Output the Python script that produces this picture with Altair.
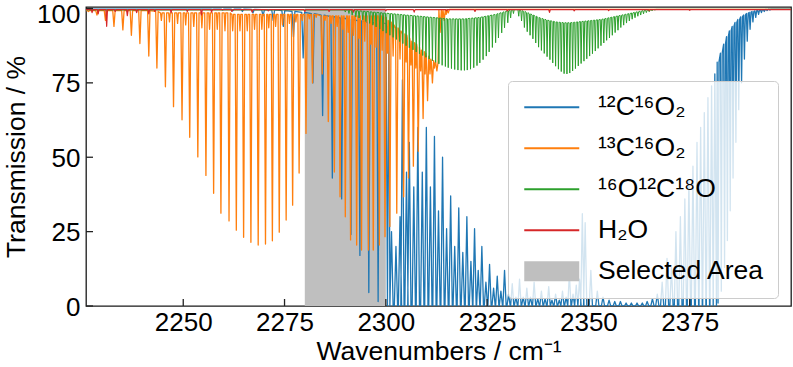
import altair as alt
import pandas as pd

# ---------------------------------------------------------------- axes
WN_MIN, WN_MAX = 2226.0, 2400.0
T_MIN, T_MAX = 0.0, 100.5
PLOT_W, PLOT_H = 705, 299

x_ticks = [2250, 2275, 2300, 2325, 2350, 2375]
y_ticks = [0, 25, 50, 75, 100]

# selected spectral window (wavenumbers) and its vertical extent (%)
area_bounds = [2280.0, 2300.0]
area_levels = [0.0, 100.0]

species = ["¹²C¹⁶O₂", "¹³C¹⁶O₂", "¹⁶O¹²C¹⁸O", "H₂O", "Selected Area"]
palette = ["#1f77b4", "#ff7f0e", "#2ca02c", "#d62728", "#bfbfbf"]

# ---------------------------------------------------------------- 12C16O2
# unsaturated P-branch lines: (centre, transmission at centre, transmission beside line)
co2_p_lines = [
    (2257.2, 99.7, 99.8), (2259.7, 99.5, 99.8), (2262.2, 99.2, 99.8),
    (2264.6, 99.0, 99.8), (2267.2, 98.5, 99.7), (2269.7, 97.5, 99.6),
    (2272.2, 96.0, 99.5), (2274.7, 94.0, 99.3), (2277.2, 90.5, 99.0),
    (2279.6, 83.4, 98.7), (2282.0, 75.0, 98.3), (2284.4, 64.0, 97.8),
    (2286.8, 43.0, 97.3), (2289.1, 36.0, 96.8), (2291.4, 24.0, 96.3),
    (2293.6, 17.0, 95.8), (2295.8, 4.5, 95.3), (2298.1, 1.5, 95.0),
    (2300.4, 0.0, 95.0),
]
# transmission windows between saturated lines: (centre, peak transmission)
co2_windows = [
    (2301.4, 25), (2302.5, 20), (2303.5, 30), (2304.1, 76), (2305.1, 45),
    (2305.8, 55), (2306.9, 40), (2307.9, 60), (2309.0, 45), (2310.0, 60),
    (2311.0, 40), (2312.0, 57), (2313.0, 32), (2314.0, 50), (2315.0, 26),
    (2316.0, 37), (2317.0, 20), (2318.0, 33), (2319.0, 18), (2320.0, 30),
    (2321.0, 15), (2321.9, 26), (2322.8, 12), (2323.7, 20), (2324.7, 8),
    (2325.6, 14), (2326.6, 6), (2327.5, 10), (2328.4, 5), (2329.3, 12),
    (2330.3, 4), (2331.2, 7.5), (2332.1, 3), (2333.0, 9), (2333.9, 3),
    (2334.8, 6), (2335.7, 3), (2336.6, 8), (2337.5, 2.5), (2338.4, 5),
    (2339.3, 2.5), (2340.2, 6.5), (2341.0, 2), (2341.9, 4), (2342.8, 2),
    (2343.6, 5), (2344.5, 3), (2345.3, 11), (2346.2, 4), (2347.0, 7),
    (2347.8, 9), (2348.5, 31), (2349.2, 28), (2350.6, 12), (2352.2, 5),
    (2353.6, 3), (2355.1, 2), (2356.5, 1.5), (2357.9, 1.5), (2359.3, 1),
    (2360.6, 1), (2362.0, 1), (2363.3, 1), (2364.5, 1.5), (2365.8, 2.5),
    (2367.0, 4), (2368.2, 8), (2369.4, 16), (2370.5, 13), (2371.6, 25),
    (2372.7, 30), (2373.8, 36), (2374.8, 42), (2375.8, 47), (2376.8, 55),
    (2377.7, 60), (2378.6, 65), (2379.5, 70), (2380.4, 74), (2381.2, 78),
]
# R-branch edge lines
co2_r_lines = [
    (2382.0, 1.0, 82.0), (2382.8, 5.0, 85.0), (2383.6, 13.0, 88.0),
    (2384.3, 22.0, 90.5), (2385.0, 32.0, 92.5), (2385.7, 43.0, 94.0),
    (2386.4, 55.0, 95.3), (2387.1, 66.0, 96.3), (2387.8, 75.0, 97.2),
    (2388.5, 83.0, 97.8), (2389.2, 89.0, 98.3), (2389.9, 93.0, 98.7),
    (2390.6, 95.5, 99.0), (2391.3, 97.0, 99.2), (2392.0, 98.0, 99.4),
    (2392.7, 98.6, 99.5), (2393.4, 99.0, 99.6), (2394.1, 99.3, 99.7),
    (2394.8, 99.5, 99.8),
]

# ---------------------------------------------------------------- 13C16O2
c13_lines = [
    (2226.6, 99.0, 99.3), (2228.7, 97.8, 99.3), (2230.8, 96.0, 99.3),
    (2232.9, 94.0, 99.3), (2235.1, 92.8, 99.3), (2237.2, 91.0, 99.3),
    (2239.3, 88.2, 99.3), (2241.5, 84.0, 99.3), (2243.5, 80.0, 99.0),
    (2245.6, 73.7, 98.5), (2247.6, 67.0, 98.5), (2249.7, 62.6, 98.5),
    (2251.6, 56.7, 98.5), (2253.6, 50.1, 98.5), (2255.6, 43.9, 98.5),
    (2257.5, 37.9, 98.5), (2259.3, 31.2, 98.5), (2261.3, 28.6, 98.5),
    (2263.1, 25.5, 98.0), (2264.9, 23.1, 98.0), (2266.7, 21.4, 98.0),
    (2268.5, 20.5, 98.0), (2270.3, 20.8, 98.0), (2272.0, 21.9, 98.0),
    (2273.7, 24.8, 98.0), (2275.4, 28.9, 98.0), (2277.0, 33.9, 98.0),
    (2278.6, 44.7, 98.0), (2280.3, 58.0, 98.0), (2281.9, 75.0, 98.0),
    (2284.3, 78.0, 97.5), (2285.8, 62.0, 97.5), (2287.3, 45.0, 97.5),
    (2288.7, 36.7, 97.5), (2290.0, 30.0, 97.5), (2291.3, 22.2, 97.5),
    (2292.8, 20.5, 97.5), (2294.0, 18.8, 97.5), (2295.7, 18.8, 97.5),
    (2296.9, 18.8, 97.5), (2298.4, 20.5, 97.5), (2299.8, 23.3, 97.0),
    (2301.0, 26.7, 95.5), (2302.7, 31.2, 93.5), (2304.4, 36.7, 91.5),
    (2305.6, 43.0, 90.0), (2306.8, 47.0, 88.5), (2308.0, 52.0, 87.0),
    (2309.2, 63.0, 85.5), (2310.3, 69.0, 84.0), (2311.5, 75.0, 82.5),
    (2312.6, 79.0, 82.0), (2313.4, 92.0, 99.5), (2314.4, 96.0, 99.6),
    (2315.4, 98.5, 99.7),
]
# weak hot-band lines of the same isotopologue
c13_hot_lines = [
    (2244.6, 96.0, 98.5), (2246.6, 95.5, 98.5), (2248.6, 95.0, 98.5),
    (2250.6, 94.5, 98.5), (2252.6, 94.0, 98.5), (2254.6, 93.5, 98.5),
    (2256.5, 93.0, 98.5), (2258.4, 93.0, 98.5), (2260.3, 92.5, 98.5),
    (2262.2, 92.5, 98.0), (2264.0, 92.5, 98.0), (2265.8, 92.5, 98.0),
    (2267.6, 93.0, 98.0), (2269.4, 93.0, 98.0), (2271.1, 93.5, 98.0),
    (2272.8, 94.0, 98.0), (2274.5, 94.5, 98.0), (2276.2, 95.0, 98.0),
    (2277.8, 95.5, 98.0), (2279.4, 96.0, 98.0), (2281.1, 96.5, 98.0),
    (2282.8, 97.0, 98.0),
    (2285.0, 96.0, 97.5), (2286.5, 95.0, 97.5), (2288.0, 94.0, 97.5),
    (2289.4, 93.0, 97.5), (2290.7, 92.0, 97.5), (2292.0, 91.0, 97.5),
    (2293.4, 90.0, 97.5), (2294.8, 89.0, 97.5), (2296.3, 88.0, 97.5),
    (2297.6, 87.0, 97.5), (2299.1, 86.0, 97.5), (2300.4, 85.0, 96.0),
    (2301.8, 84.0, 94.5), (2303.5, 83.0, 92.5), (2305.0, 82.0, 91.0),
    (2306.2, 81.0, 89.0), (2307.4, 80.0, 88.0), (2308.6, 79.0, 86.0),
    (2309.7, 78.0, 85.0), (2310.9, 78.0, 83.0), (2312.0, 80.0, 82.0),
    (2313.9, 96.5, 99.5), (2314.9, 98.0, 99.6),
]

# ---------------------------------------------------------------- 16O12C18O
o18_lines = [
    (2290.0, 98.8, 99.5), (2290.9, 98.3, 99.5), (2291.7, 97.8, 99.4),
    (2292.6, 97.2, 99.3), (2293.4, 96.8, 99.2), (2294.3, 96.2, 99.1),
    (2295.1, 95.6, 99.0), (2296.0, 95.0, 98.9), (2296.8, 94.4, 98.8),
    (2297.6, 93.8, 98.7), (2298.5, 93.1, 98.6), (2299.3, 92.4, 98.5),
    (2300.1, 91.7, 98.4), (2301.0, 91.0, 98.3), (2301.8, 90.3, 98.2),
    (2302.6, 89.6, 98.1), (2303.4, 88.9, 98.0), (2304.2, 88.2, 97.9),
    (2305.0, 87.5, 97.8), (2305.8, 86.8, 97.7), (2306.7, 86.1, 97.6),
    (2307.5, 85.4, 97.5), (2308.3, 84.8, 97.4), (2309.1, 84.2, 97.3),
    (2309.9, 83.6, 97.2), (2310.7, 83.0, 97.1), (2311.5, 82.4, 97.0),
    (2312.3, 81.9, 96.9), (2313.1, 81.4, 96.8), (2313.9, 80.9, 96.7),
    (2314.7, 80.5, 96.6), (2315.4, 80.1, 96.5), (2316.2, 79.8, 96.5),
    (2317.0, 79.5, 96.5), (2317.8, 79.3, 96.5), (2318.6, 79.2, 96.5),
    (2319.4, 79.2, 96.5), (2320.1, 79.3, 96.6), (2320.9, 79.6, 96.7),
    (2321.7, 80.1, 96.8), (2322.5, 80.8, 96.9), (2323.2, 81.7, 97.0),
    (2324.0, 82.8, 97.2), (2324.8, 84.0, 97.4), (2325.5, 85.4, 97.6),
    (2326.3, 86.9, 97.8), (2327.1, 88.5, 98.0), (2327.8, 90.1, 98.3),
    (2328.6, 91.8, 98.6), (2329.3, 93.5, 98.9), (2330.1, 95.2, 99.2),
    (2330.8, 96.8, 99.4), (2331.5, 98.3, 99.6),
    (2332.8, 97.4, 99.6), (2333.5, 95.8, 99.3), (2334.2, 93.6, 99.0),
    (2334.9, 92.2, 98.6), (2335.6, 91.0, 98.2), (2336.3, 89.8, 97.8),
    (2337.0, 88.4, 97.4), (2337.7, 87.0, 97.0), (2338.4, 85.9, 96.7),
    (2339.1, 84.9, 96.4), (2339.8, 83.8, 96.1), (2340.5, 82.8, 95.9),
    (2341.2, 81.7, 95.7), (2341.9, 80.6, 95.5), (2342.6, 79.6, 95.4),
    (2343.3, 78.8, 95.3), (2344.0, 78.1, 95.2), (2344.7, 78.0, 95.2),
    (2345.4, 78.3, 95.2), (2346.1, 79.0, 95.3), (2346.8, 79.8, 95.4),
    (2347.5, 80.7, 95.5), (2348.2, 81.5, 95.6), (2348.9, 82.3, 95.7),
    (2349.6, 83.1, 95.8), (2350.3, 84.0, 95.9), (2351.0, 84.8, 96.0),
    (2351.7, 85.7, 96.1), (2352.4, 86.6, 96.2), (2353.1, 87.5, 96.3),
    (2353.8, 88.4, 96.5), (2354.5, 89.3, 96.7), (2355.2, 90.1, 96.9),
    (2355.9, 91.0, 97.1), (2356.6, 91.9, 97.3), (2357.3, 92.7, 97.5),
    (2358.0, 93.6, 97.7), (2358.7, 94.4, 97.9), (2359.4, 95.1, 98.1),
    (2360.1, 95.8, 98.3), (2360.8, 96.4, 98.5), (2361.5, 96.9, 98.7),
    (2362.2, 97.4, 98.9), (2362.9, 97.8, 99.1), (2363.6, 98.2, 99.3),
    (2364.3, 98.6, 99.4), (2365.0, 98.9, 99.5), (2365.7, 99.2, 99.6),
    (2366.4, 99.4, 99.7),
]

# ---------------------------------------------------------------- H2O
h2o_lines = [
    (2227.5, 98.6, 99.6), (2229.0, 98.2, 99.6), (2231.1, 94.0, 99.6),
    (2233.2, 99.0, 99.6), (2236.2, 97.6, 99.6), (2238.5, 98.6, 99.6),
    (2241.5, 98.2, 99.6), (2243.0, 99.0, 99.6), (2247.0, 98.6, 99.6),
    (2251.0, 99.0, 99.6), (2254.5, 97.8, 99.6), (2257.0, 98.8, 99.6),
    (2262.0, 99.0, 99.6), (2267.0, 98.8, 99.6), (2271.0, 99.2, 99.6),
    (2280.0, 99.0, 99.6), (2286.0, 99.0, 99.6), (2292.0, 98.8, 99.6),
    (2300.0, 99.2, 99.6), (2307.0, 98.8, 99.6), (2315.0, 99.2, 99.6),
    (2322.0, 99.0, 99.6), (2330.0, 99.2, 99.6), (2340.4, 98.7, 99.6),
    (2346.5, 99.2, 99.6), (2355.0, 99.3, 99.6), (2365.0, 99.3, 99.6),
    (2375.0, 99.4, 99.6),
]


def trace(*pieces):
    """Polyline through every feature: each one drops (or rises) from its
    side level to its centre value and back within a half-width hw."""
    feats = sorted(
        (c, mid, side, hw) for rows, hw in pieces for (c, mid, side) in rows
    )
    pts = [(WN_MIN, feats[0][2])]
    for c, mid, side, hw in feats:
        pts += [(c - hw, side), (c, mid), (c + hw, side)]
    pts.append((WN_MAX, feats[-1][2]))
    return pd.DataFrame(
        {"wn": [p[0] for p in pts], "T": [p[1] for p in pts], "i": range(len(pts))}
    )


co2_df = trace(
    (co2_p_lines, 0.35),
    ([(c, peak, 0.0) for c, peak in co2_windows], 0.4),
    (co2_r_lines, 0.22),
)
c13_df = trace((c13_lines, 0.3), (c13_hot_lines, 0.2))
o18_df = trace((o18_lines, 0.18))
h2o_df = trace((h2o_lines, 0.2))

# ---------------------------------------------------------------- encodings
FONT = "Liberation Sans"
x_scale = alt.Scale(domain=[WN_MIN, WN_MAX], nice=False, zero=False)
y_scale = alt.Scale(domain=[T_MIN, T_MAX], nice=False, zero=False)
x_axis = alt.Axis(values=x_ticks, format="d", title="Wavenumbers / cm⁻¹",
                  tickSize=0, labelPadding=3, titlePadding=3,
                  domain=False, grid=False)
y_axis = alt.Axis(values=y_ticks, format="d", title="Transmission / %",
                  tickSize=0, labelPadding=6, titlePadding=6,
                  labelOffset={"condition": {"test": "datum.value >= 100",
                                             "value": 6},
                               "value": 1},
                  domain=False, grid=False)


def xq(field):
    return alt.X(f"{field}:Q", scale=x_scale, axis=x_axis)


def yq(field):
    return alt.Y(f"{field}:Q", scale=y_scale, axis=y_axis)


area_df = pd.DataFrame({"x0": [area_bounds[0]], "x1": [area_bounds[1]],
                        "y0": [area_levels[0]], "y1": [area_levels[1]]})
area = alt.Chart(area_df).mark_rect(color=palette[4], opacity=1).encode(
    x=xq("x0"), x2="x1", y=yq("y0"), y2="y1"
)

widths = [1.3, 1.3, 1.0, 1.2]
spectra = [
    alt.Chart(df).mark_line(color=col, strokeWidth=w, clip=True,
                            strokeJoin="round").encode(
        x=xq("wn"), y=yq("T"), order="i:Q")
    for df, col, w in zip([co2_df, c13_df, o18_df, h2o_df], palette[:4], widths)
]

# inward tick marks on the bottom and left frame edges
x_tick_marks = alt.Chart(pd.DataFrame({"v": x_ticks})).mark_rule(
    color="#222222", strokeWidth=1.3).encode(
    x=xq("v"), y=alt.value(PLOT_H), y2=alt.value(PLOT_H - 7))
y_tick_marks = alt.Chart(pd.DataFrame({"v": y_ticks})).mark_rule(
    color="#222222", strokeWidth=1.3).encode(
    y=yq("v"), x=alt.value(0), x2=alt.value(7))

# legend: line keys for the spectra, a filled patch for the selected area
line_key = "M -2.75 -0.1 L 2.75 -0.1 L 2.75 0.1 L -2.75 0.1 Z"
patch_key = "M -2.75 -1 L 2.75 -1 L 2.75 1 L -2.75 1 Z"
legend_shapes = [line_key] * 4 + [patch_key]

legend = alt.Legend(
    title=None, orient="none", legendX=422, legendY=74,
    padding=13, rowPadding=14, symbolSize=400, symbolOffset=17.5,
    labelOffset=33, symbolStrokeWidth=0, symbolOpacity=1,
    labelFont=FONT, labelFontSize=26.5, labelColor="black", labelLimit=400,
    fillColor="rgba(255,255,255,0.8)", strokeColor="#cccccc", cornerRadius=4,
)
keys = alt.Chart(pd.DataFrame({"name": species})).mark_point(
    filled=True, size=0, opacity=1).encode(
    color=alt.Color("name:N", scale=alt.Scale(domain=species, range=palette),
                    legend=legend),
    shape=alt.Shape("name:N", scale=alt.Scale(domain=species, range=legend_shapes),
                    legend=legend),
)

chart = (
    alt.layer(area, *spectra, x_tick_marks, y_tick_marks, keys)
    .properties(
        width=PLOT_W, height=PLOT_H,
        padding={"left": 86, "top": 7, "right": 2, "bottom": 61},
        autosize=alt.AutoSizeParams(type="none"),
        background="white",
    )
    .configure_view(stroke="#1a1a1a", strokeWidth=1.3)
    .configure_axis(labelFont=FONT, titleFont=FONT, labelFontSize=26,
                    titleFontSize=26.5, titleFontWeight="normal",
                    labelColor="black", titleColor="black")
)

chart.save("out.html", embed_options={"renderer": "svg", "actions": False})
